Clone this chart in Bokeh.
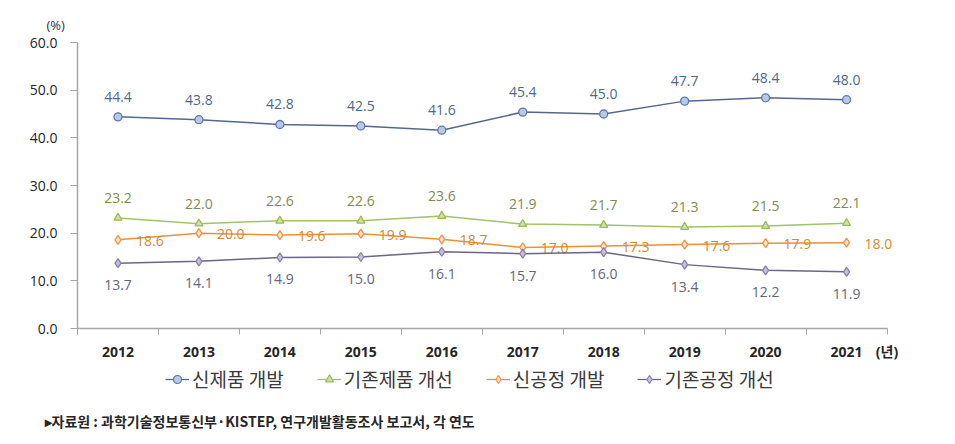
from bokeh.plotting import figure
from bokeh.layouts import column
from bokeh.models import (ColumnDataSource, Range1d, FixedTicker, NumeralTickFormatter,
                          Legend, LegendItem, Title, Label)
from bokeh.core.properties import value
from bokeh.embed import file_html
from bokeh.resources import INLINE

years = ["2012", "2013", "2014", "2015", "2016", "2017", "2018", "2019", "2020", "2021"]
new_product = [44.4, 43.8, 42.8, 42.5, 41.6, 45.4, 45.0, 47.7, 48.4, 48.0]
improve_product = [23.2, 22.0, 22.6, 22.6, 23.6, 21.9, 21.7, 21.3, 21.5, 22.1]
new_process = [18.6, 20.0, 19.6, 19.9, 18.7, 17.0, 17.3, 17.6, 17.9, 18.0]
improve_process = [13.7, 14.1, 14.9, 15.0, 16.1, 15.7, 16.0, 13.4, 12.2, 11.9]
series_names = ["신제품 개발", "기존제품 개선", "신공정 개발", "기존공정 개선"]
y_ticks = [0, 10, 20, 30, 40, 50, 60]
x_unit_label = "(년)"
y_unit_label = "(%)"
source_note = "▸자료원 : 과학기술정보통신부·KISTEP, 연구개발활동조사 보고서, 각 연도"

n = len(years)
xs = [i + 0.5 for i in range(n)]
unit_tick = n

FONT_NUM = "Open Sans, Noto Sans CJK KR"
FONT_KR = "Noto Sans CJK KR"

styles = [
    dict(line="#55688c", marker="circle", fill="#b8c8e6", edge="#5b79ad",
         size=8, tcol="#4e6888", xo=0, yo=-20, align="center"),
    dict(line="#a3c26a", marker="triangle", fill="#cfe0a8", edge="#9bbb59",
         size=8, tcol="#7d8c52", xo=0, yo=-20, align="center"),
    dict(line="#e8913c", marker="diamond", fill="#fde3c8", edge="#eb9448",
         size=9, tcol="#d38a2e", xo=18, yo=1, align="left"),
    dict(line="#6b6586", marker="diamond", fill="#c6bedc", edge="#8a82aa",
         size=9, tcol="#66667a", xo=0, yo=22, align="center"),
]
series_values = [new_product, improve_product, new_process, improve_process]

# ---------------- main chart ----------------
p = figure(width=955, height=366, output_backend="svg", toolbar_location=None,
           x_range=Range1d(0, n + 0.5), y_range=Range1d(0, 60), frame_align=False,
           min_border_left=77, min_border_right=28, min_border_top=42, min_border_bottom=38)
p.outline_line_color = None
p.xgrid.visible = False
p.ygrid.visible = False

p.xaxis.bounds = (0, n)
p.xaxis.ticker = FixedTicker(ticks=xs + [unit_tick], minor_ticks=list(range(n + 1)))
overrides = {x: y for x, y in zip(xs, years)}
overrides[unit_tick] = x_unit_label
p.xaxis.major_label_overrides = overrides
p.xaxis.major_tick_out = 0
p.xaxis.major_tick_in = 0
p.xaxis.minor_tick_out = 6
p.xaxis.minor_tick_in = 0
p.xaxis.minor_tick_line_color = "#a6a6a6"
p.xaxis.axis_line_color = "#a6a6a6"
p.xaxis.axis_line_width = 1.5
p.xaxis.major_label_text_font = FONT_NUM
p.xaxis.major_label_text_font_size = "14px"
p.xaxis.major_label_text_font_style = "bold"
p.xaxis.major_label_text_color = "#262626"
p.xaxis.major_label_standoff = 7

p.yaxis.ticker = FixedTicker(ticks=y_ticks, minor_ticks=[])
p.yaxis.formatter = NumeralTickFormatter(format="0.0")
p.yaxis.major_tick_out = 7
p.yaxis.major_tick_in = 0
p.yaxis.major_tick_line_color = "#a6a6a6"
p.yaxis.axis_line_color = "#a6a6a6"
p.yaxis.axis_line_width = 1.5
p.yaxis.major_label_text_font = FONT_NUM
p.yaxis.major_label_text_font_size = "14px"
p.yaxis.major_label_text_color = "#262626"
p.yaxis.major_label_standoff = 13

sources = []
for vals, st in zip(series_values, styles):
    src = ColumnDataSource(dict(x=xs, y=vals, t=["%.1f" % v for v in vals]))
    sources.append(src)
    p.line("x", "y", source=src, line_color=st["line"], line_width=1.5)
    p.scatter("x", "y", source=src, marker=st["marker"], size=st["size"],
              fill_color=st["fill"], line_color=st["edge"], line_width=1.3)
    p.text("x", "y", text="t", source=src, x_offset=st["xo"], y_offset=st["yo"],
           text_align=st["align"], text_baseline="middle", text_font=value(FONT_NUM),
           text_font_size="14px", text_color=st["tcol"])

p.add_layout(Title(text=y_unit_label, align="left", offset=-31, text_font=FONT_NUM,
                   text_font_size="13px", text_font_style="normal", text_color="#333333",
                   standoff=18), "above")

# ---------------- legend + source strip ----------------
# same series sources; this strip's ranges keep the data itself out of view,
# so only the legend swatches of these renderers show
q = figure(width=955, height=78, output_backend="svg", toolbar_location=None,
           x_axis_type=None, y_axis_type=None, frame_align=False,
           x_range=Range1d(0, 1), y_range=Range1d(0, 1),
           min_border_left=0, min_border_right=0, min_border_top=0, min_border_bottom=0)
q.outline_line_color = None

items = []
for name, st, src in zip(series_names, styles, sources):
    lr = q.line("x", "y", source=src, line_color=st["line"], line_width=1.3)
    sr = q.scatter("x", "y", source=src, marker=st["marker"], size=st["size"] - 2,
                   fill_color=st["fill"], line_color=st["edge"], line_width=1.2)
    items.append(LegendItem(label=name, renderers=[lr, sr]))

legend = Legend(items=items, orientation="horizontal", location=(165, 52),
                label_text_font=FONT_KR, label_text_font_size="19px",
                label_text_color="#3a3a3a", glyph_width=24, glyph_height=20,
                spacing=33, padding=0, margin=0, label_standoff=3,
                border_line_color=None, background_fill_alpha=0)
q.add_layout(legend, "center")

q.add_layout(Label(x=44, y=24, x_units="screen", y_units="screen", text=source_note,
                   text_align="left", text_baseline="middle", text_font=FONT_KR,
                   text_font_size="14px", text_font_style="bold", text_color="#262626"))

layout = column(p, q, spacing=0)
open("out.html", "w").write(file_html(layout, INLINE))
